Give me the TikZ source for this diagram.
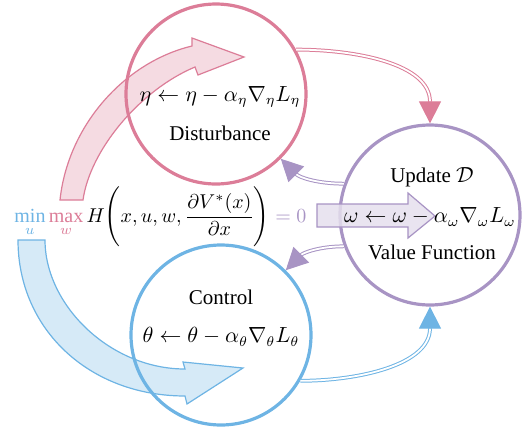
\documentclass[tikz,border=0pt]{standalone}
\usepackage{fontspec}
\setmainfont{Liberation Serif}
\usepackage{amsmath}
\usepackage{xcolor}
\usepackage{tikz}
\usetikzlibrary{arrows.meta, calc}
\definecolor{mypink}{RGB}{220,125,152}
\definecolor{myblue}{RGB}{110,180,228}
\definecolor{mypurple}{RGB}{168,148,196}
\tikzstyle{ring} = [circle, draw, line width=1.6pt, minimum size=90pt, inner sep=0pt]
\tikzstyle{band} = [line width=0.6pt, line join=miter]
\tikzstyle{txt}  = [font=\fontsize{10.5}{12.6}\selectfont, inner sep=1pt]
\tikzstyle{darr} = [double=white, double distance=0.9pt, line width=0.5pt,
                    -{Triangle[length=11pt, width=11pt]}]

\begin{document}
\begin{tikzpicture}[x=0.5pt, y=-0.5pt]
    \useasboundingbox (0,0) rectangle (532,430);

    % curved update arrows
    \draw[band, draw=mypink, fill=mypink!28] (60,200) .. controls (68,125) and (125,62) .. (192,46)
        -- (192,38) -- (244,57) -- (198,75) -- (195,67) .. controls (140,90) and (90,150) .. (83,200) -- cycle;
    \draw[band, draw=myblue, fill=myblue!28] (18,240) .. controls (18,330) and (90,396) .. (185,396)
        -- (187,404) -- (243,368) -- (183,362) -- (185,369) .. controls (110,369) and (45,305) .. (45,240) -- cycle;

    \node[ring, draw=mypink]   (D) at (216,94)  {};
    \node[ring, draw=myblue]   (C) at (221,335) {};
    \node[ring, draw=mypurple] (V) at (430,215) {};

    \node[txt] (deq)  at (220,97)  {$\eta \leftarrow \eta - \alpha_\eta \nabla_\eta L_\eta$};
    \node[txt] (dlab) at (220,133) {Disturbance};
    \node[txt] (clab) at (221,297) {Control};
    \node[txt] (ceq)  at (221,337) {$\theta \leftarrow \theta - \alpha_\theta \nabla_\theta L_\theta$};
    \node[txt] (vlab) at (432,177) {Update $\mathcal{D}$};
    \node[txt] (vfun) at (432,252) {Value Function};

    % straight update arrow
    \draw[band, draw=mypurple, fill=mypurple!30, fill opacity=0.85] (317,204) -- (408,204) -- (408,193)
        -- (435,216) -- (408,238) -- (408,227) -- (317,227) -- cycle;
    \node[txt] (veq) at (430,217) {$\omega \leftarrow \omega - \alpha_\omega \nabla_\omega L_\omega$};

    \node[txt, font=\fontsize{10}{12}\selectfont, anchor=west] (hji) at (12,217)
        {$\displaystyle \textcolor{myblue}{\min_u}\,\textcolor{mypink}{\max_w}\,
        H\Biggl(x,u,w,\frac{\partial V^*(x)}{\partial x}\Biggr) \mathrel{\textcolor{mypurple}{=}} \textcolor{mypurple}{0}$};

    \draw[darr, draw=mypink]   (D.29)  to[out=0, in=90]    (V.north);
    \draw[darr, draw=myblue]   (C.-30) to[out=0, in=-90]   (V.south);
    \draw[darr, draw=mypurple] (V.160) to[out=180, in=-45] (D.-45);
    \draw[darr, draw=mypurple] (V.200) to[out=180, in=45]  (C.45);
\end{tikzpicture}
\end{document}
